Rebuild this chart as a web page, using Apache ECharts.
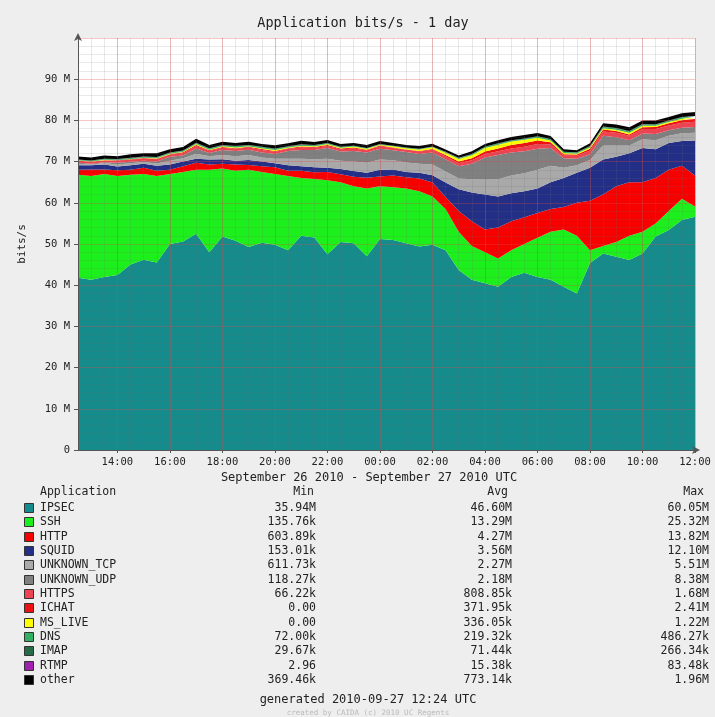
<!DOCTYPE html>
<html>
<head>
<meta charset="utf-8">
<script src="https://cdn.jsdelivr.net/npm/echarts@6/dist/echarts.min.js"></script>
<style>
html,body{margin:0;padding:0;background:#eeeeee;}
#c{width:715px;height:717px;}
</style>
</head>
<body>
<div id="c"></div>
<script>
// ---- data (values in Mbit/s) ----
const times = ['12:30','13:00','13:30','14:00','14:30','15:00','15:30','16:00','16:30','17:00','17:30','18:00','18:30','19:00','19:30','20:00','20:30','21:00','21:30','22:00','22:30','23:00','23:30','00:00','00:30','01:00','01:30','02:00','02:30','03:00','03:30','04:00','04:30','05:00','05:30','06:00','06:30','07:00','07:30','08:00','08:30','09:00','09:30','10:00','10:30','11:00','11:30','12:00'];

const IPSEC = [41.8,41.3,42.0,42.5,45.0,46.2,45.5,50.0,50.6,52.5,48.0,51.8,50.8,49.3,50.3,49.8,48.5,52.0,51.6,47.5,50.5,50.2,47.0,51.2,51.0,50.2,49.4,49.8,48.5,43.7,41.3,40.5,39.6,42.0,43.0,42.0,41.3,39.6,38.0,45.4,47.7,46.9,46.1,47.7,51.8,53.4,55.8,56.6];
const SSH = [25.0,25.2,25.0,24.0,21.8,20.8,21.0,17.0,16.9,15.5,20.0,16.5,17.0,18.7,17.2,17.2,18.0,14.0,14.2,18.0,14.5,13.8,16.5,12.8,12.8,13.3,13.4,11.7,10.0,9.3,8.2,7.5,6.9,6.5,7.0,9.5,11.7,13.9,14.0,3.1,1.8,3.6,5.9,5.3,3.2,4.6,5.2,2.5];
const HTTP = [1.2,1.6,1.1,1.4,1.2,1.5,1.3,1.0,1.4,1.7,1.3,1.2,1.5,1.2,1.4,1.6,1.3,1.8,1.6,2.0,1.9,2.3,2.6,2.4,2.8,2.7,3.1,3.4,2.9,5.0,6.0,5.5,7.5,7.0,6.5,6.0,5.5,5.5,8.0,12.0,12.5,13.5,13.0,12.0,11.0,10.0,8.0,7.5];
const SQUID = [1.1,1.0,1.2,0.9,1.1,1.0,1.2,1.3,1.1,1.0,1.2,1.1,0.9,1.2,1.1,1.0,1.3,1.1,1.2,1.0,1.3,1.4,1.2,1.6,1.5,1.3,1.4,1.8,3.5,5.3,7.0,8.5,7.5,6.8,6.3,6.0,6.5,7.0,7.3,8.0,8.5,7.2,7.0,8.3,7.0,6.5,6.0,8.5];
const UNKNOWN_TCP = [0.4,0.2,0.35,0.5,0.5,0.4,0.55,0.9,0.8,1.2,0.8,1.0,1.1,1.2,1.0,1.1,1.6,1.8,2.0,2.2,2.0,2.3,2.4,2.5,2.2,2.3,2.2,2.6,2.7,2.6,3.2,3.8,4.2,4.3,4.4,4.5,4.0,2.5,1.8,1.9,3.4,2.8,1.9,2.1,2.2,1.8,1.9,1.9];
const UNKNOWN_UDP = [0.25,0.15,0.2,0.4,0.35,0.3,0.45,1.0,0.7,1.3,0.8,1.2,1.3,1.25,1.2,1.15,1.9,2.1,2.2,2.6,2.25,2.6,2.5,2.6,2.45,2.55,2.35,2.9,3.0,2.95,3.8,5.2,5.9,5.6,5.3,5.1,4.3,2.3,1.6,1.4,2.4,1.9,1.3,1.4,1.5,1.3,1.3,1.4];
const HTTPS = [0.45,0.5,0.4,0.55,0.5,0.6,0.55,0.5,0.55,0.6,0.5,0.55,0.5,0.55,0.6,0.55,0.5,0.6,0.55,0.5,0.55,0.6,0.55,0.6,0.55,0.5,0.6,0.65,0.7,0.75,0.8,0.85,0.9,1.0,1.1,1.15,0.9,0.7,0.75,0.9,1.0,1.1,1.05,1.1,1.2,1.15,1.25,1.3];
const ICHAT = [0.05,0.0,0.1,0.05,0.1,0.05,0.15,0.1,0.2,0.25,0.15,0.2,0.15,0.2,0.25,0.2,0.15,0.25,0.2,0.2,0.15,0.2,0.15,0.2,0.15,0.1,0.15,0.2,0.3,0.4,0.5,0.6,0.7,0.8,0.9,0.85,0.5,0.3,0.25,0.4,0.5,0.4,0.35,0.45,0.5,0.55,0.6,0.65];
const MS_LIVE = [0.05,0.05,0.1,0.05,0.1,0.1,0.1,0.1,0.15,0.2,0.15,0.15,0.2,0.15,0.2,0.2,0.15,0.2,0.2,0.25,0.2,0.25,0.2,0.2,0.25,0.3,0.35,0.45,0.55,0.65,0.75,0.85,0.9,0.85,0.8,0.7,0.45,0.3,0.25,0.3,0.3,0.35,0.4,0.35,0.3,0.3,0.35,0.3];
const DNS = [0.15,0.18,0.2,0.17,0.22,0.19,0.21,0.24,0.2,0.23,0.25,0.22,0.26,0.21,0.24,0.27,0.22,0.25,0.23,0.2,0.19,0.17,0.15,0.14,0.12,0.11,0.1,0.12,0.14,0.17,0.2,0.22,0.25,0.23,0.21,0.24,0.26,0.22,0.25,0.28,0.3,0.27,0.29,0.31,0.26,0.28,0.3,0.32];
const IMAP = [0.05,0.06,0.04,0.07,0.05,0.06,0.08,0.07,0.09,0.08,0.1,0.09,0.08,0.07,0.09,0.1,0.08,0.07,0.06,0.05,0.05,0.04,0.04,0.03,0.03,0.04,0.04,0.05,0.06,0.07,0.08,0.07,0.08,0.09,0.08,0.1,0.09,0.08,0.07,0.09,0.1,0.12,0.11,0.1,0.09,0.08,0.1,0.09];
const RTMP = [0.01,0.02,0.01,0.015,0.02,0.01,0.015,0.02,0.025,0.015,0.01,0.02,0.015,0.01,0.02,0.015,0.01,0.02,0.015,0.01,0.01,0.005,0.01,0.005,0.01,0.005,0.01,0.01,0.015,0.02,0.015,0.01,0.02,0.025,0.02,0.015,0.01,0.02,0.015,0.01,0.02,0.03,0.025,0.02,0.015,0.02,0.01,0.015];
const OTHER = [0.7,0.75,0.8,0.7,0.85,0.8,0.9,0.75,0.8,0.95,0.75,0.8,0.7,0.75,0.7,0.8,0.75,0.85,0.7,0.75,0.7,0.65,0.7,0.75,0.65,0.6,0.7,0.65,0.6,0.6,0.65,0.7,0.75,0.8,0.85,0.8,0.7,0.55,0.5,0.7,0.8,0.85,0.9,0.85,0.9,0.85,0.9,0.95];

// legend table texts
const appNames = ['IPSEC','SSH','HTTP','SQUID','UNKNOWN_TCP','UNKNOWN_UDP','HTTPS','ICHAT','MS_LIVE','DNS','IMAP','RTMP','other'];
const minVals = ['35.94M','135.76k','603.89k','153.01k','611.73k','118.27k','66.22k','0.00','0.00','72.00k','29.67k','2.96','369.46k'];
const avgVals = ['46.60M','13.29M','4.27M','3.56M','2.27M','2.18M','808.85k','371.95k','336.05k','219.32k','71.44k','15.38k','773.14k'];
const maxVals = ['60.05M','25.32M','13.82M','12.10M','5.51M','8.38M','1.68M','2.41M','1.22M','486.27k','266.34k','83.48k','1.96M'];
const yTicks = [0,10,20,30,40,50,60,70,80,90,100];

// ---- styles ----
const seriesData = [IPSEC,SSH,HTTP,SQUID,UNKNOWN_TCP,UNKNOWN_UDP,HTTPS,ICHAT,MS_LIVE,DNS,IMAP,RTMP,OTHER];
const colors = ['#168b8b','#1cef1c','#f70000','#232f86','#a9a9a9','#808080','#ee4452','#ee1111','#ffff00','#30b060','#246b46','#a020b0','#000000'];
const MONO = '"DejaVu Sans Mono", monospace';

const chart = echarts.init(document.getElementById('c'), null, {renderer:'canvas'});

const isMajor = (idx, val) => val.slice(3) === '00' && (parseInt(val.slice(0,2),10) % 2 === 0);

const series = appNames.map((n, k) => ({
  name: n, type: 'line', stack: 'total', data: seriesData[k],
  xAxisIndex: 0, yAxisIndex: 0,
  showSymbol: false, symbol: 'none', smooth: false,
  lineStyle: {width: 0}, areaStyle: {color: colors[k], opacity: 1},
  itemStyle: {color: colors[k]}, z: 2, silent: true
}));

const graphics = [];
function txt(x, y, s, opt) {
  opt = opt || {};
  graphics.push({
    type: 'text', x: x, y: y, silent: true, z: 10,
    style: {
      text: s, font: (opt.size || 11.5) + 'px ' + MONO, fill: opt.fill || '#222',
      align: opt.align || 'left', textAlign: opt.align || 'left',
      verticalAlign: 'middle', textVerticalAlign: 'middle'
    }
  });
}
txt(369, 478, 'September 26 2010 - September 27 2010 UTC', {size: 12, align: 'center'});
txt(40, 492, 'Application');
txt(314, 492, 'Min', {align: 'right'});
txt(508, 492, 'Avg', {align: 'right'});
txt(704, 492, 'Max', {align: 'right'});
appNames.forEach((n, k) => {
  const y = 508 + k * 14.33;
  graphics.push({type: 'rect', silent: true, z: 10, shape: {x: 24.5, y: Math.round(y) - 4.5, width: 9, height: 9},
    style: {fill: colors[k], stroke: '#333', lineWidth: 1}});
  txt(40, y, n);
  txt(316, y, minVals[k], {align: 'right'});
  txt(512, y, avgVals[k], {align: 'right'});
  txt(709, y, maxVals[k], {align: 'right'});
});
txt(368, 700, 'generated 2010-09-27 12:24 UTC', {size: 12, align: 'center'});
txt(368, 713, 'created by CAIDA (c) 2010 UC Regents', {size: 7.5, align: 'center', fill: '#bbbbbb'});

const option = {
  animation: false,
  backgroundColor: '#eeeeee',
  title: {
    text: 'Application bits/s - 1 day', left: 358, top: 11, textAlign: 'center',
    textStyle: {fontFamily: MONO, fontSize: 13.5, fontWeight: 'normal', color: '#222'}
  },
  grid: {left: 78, right: 20, top: 38, bottom: 267, show: true, backgroundColor: '#ffffff', borderWidth: 0, containLabel: false},
  xAxis: [{
    type: 'category', data: times, boundaryGap: false, z: 5,
    axisLine: {show: true, onZero: false, lineStyle: {color: '#555', width: 1}, symbol: ['none','arrow'], symbolSize: [6, 8], symbolOffset: [0, 5]},
    axisTick: {show: true, interval: isMajor, length: 3, lineStyle: {color: '#555'}},
    axisLabel: {interval: isMajor, margin: 7, fontFamily: MONO, fontSize: 10.5, color: '#222', hideOverlap: false},
    splitLine: {show: true, interval: 0, lineStyle: {color: 'rgba(110,110,110,0.16)', width: 1}}
  }, {
    type: 'category', data: times, boundaryGap: false, z: 5, position: 'bottom',
    axisLine: {show: false}, axisTick: {show: false}, axisLabel: {show: false},
    splitLine: {show: true, interval: isMajor, lineStyle: {color: 'rgba(225,70,70,0.3)', width: 1}}
  }],
  yAxis: [{
    type: 'value', min: yTicks[0], max: yTicks[yTicks.length - 1], interval: 10, z: 5,
    name: 'bits/s', nameLocation: 'middle', nameGap: 50, nameRotate: 90,
    nameTextStyle: {fontFamily: MONO, fontSize: 11, color: '#222'},
    axisLine: {show: true, lineStyle: {color: '#555', width: 1}, symbol: ['none','arrow'], symbolSize: [6, 8], symbolOffset: [0, 5]},
    axisTick: {show: true, length: 4, lineStyle: {color: '#555'}},
    axisLabel: {margin: 8, showMaxLabel: false, fontFamily: MONO, fontSize: 10.5, color: '#222',
      formatter: v => v === 0 ? '0' : v + ' M'},
    splitLine: {show: true, lineStyle: {color: 'rgba(225,70,70,0.3)', width: 1}},
    minorTick: {show: false, splitNumber: 5},
    minorSplitLine: {show: true, lineStyle: {color: 'rgba(110,110,110,0.15)', width: 1}}
  }],
  series: series,
  graphic: {elements: graphics}
};
chart.setOption(option);
</script>
</body>
</html>
